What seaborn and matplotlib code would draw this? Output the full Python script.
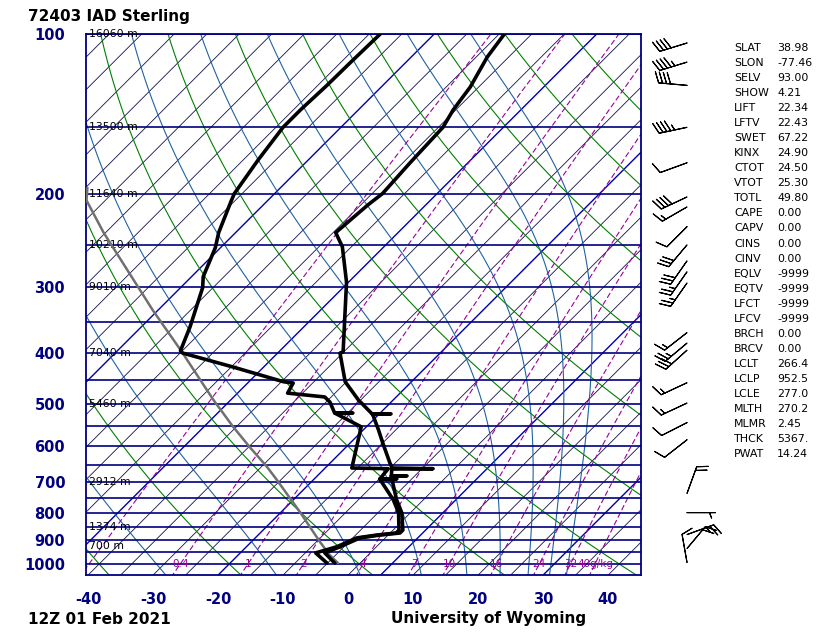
import numpy as np
import matplotlib
matplotlib.use("Agg")
import matplotlib.pyplot as plt
import seaborn as sns
import pandas as pd

# ---------------- data ----------------
title_text = "72403 IAD Sterling"
time_text = "12Z 01 Feb 2021"
credit_text = "University of Wyoming"

# temperature profile (hPa, degC)
temp_p = [100, 110.5, 125.9, 139.1, 150, 175, 200, 210, 237, 252, 294, 398, 400, 453, 490,
          521, 521, 521.5, 558, 591, 645, 659, 661, 662, 682, 682, 682.5, 757, 801, 863, 874,
          882, 893, 928, 953, 996]
temp_c = [-59.2, -58.3, -56.3, -55.4, -54.3, -53.9, -53.4, -53.9, -54.6, -51.4, -45.3, -35.1,
          -35.4, -30.2, -25.4, -21.1, -18.2, -21.0, -17.7, -15.0, -10.8, -9.7, -3.3, -9.6,
          -8.6, -6.2, -8.6, -4.1, -1.3, 1.5, 1.5, -1.3, -3.9, -5.6, -7.0, -3.9]

# dewpoint profile (hPa, degC)
dwpt_p = [100, 113, 125, 139, 150, 173, 200, 206, 237, 253, 287, 301, 357, 396, 400, 425,
          453, 455.5, 476, 484, 495, 519, 519, 519.5, 551, 659, 661, 691, 691, 691.5, 757,
          801, 863, 874, 882, 893, 928, 953, 996]
dwpt_c = [-78.3, -78.5, -78.6, -78.9, -78.9, -77.7, -76.2, -75.6, -72.6, -70.8, -68.2, -66.6,
          -62.5, -60.3, -59.6, -49.7, -39.7, -38.0, -37.3, -31.0, -29.4, -27.0, -24.2, -26.9,
          -20.8, -15.9, -10.2, -9.9, -7.3, -9.9, -4.6, -1.8, 0.9, 0.9, -1.8, -4.4, -6.1, -8.4,
          -5.1]

# lifted parcel trace (hPa, degC)
parcel_p = [996, 962, 909, 851, 798, 751, 694, 656, 602, 551, 490, 396, 332, 237, 206, 195]
parcel_c = [-3.4, -5.9, -9.4, -13.3, -17.1, -20.8, -25.6, -29.1, -34.8, -40.5, -47.7, -60.2,
            -70.8, -90.3, -97.9, -99.7]

# geopotential height labels
height_p = [100, 150, 200, 250, 300, 400, 500, 700, 850, 925]
height_txt = ["16060 m", "13500 m", "11640 m", "10210 m", "9010 m", "7040 m", "5460 m",
              "2912 m", "1374 m", "700 m"]

# winds (hPa, direction deg, speed kt)
wind_p = [104, 113, 125, 150, 175, 203, 212, 231, 250, 268, 281, 295, 366, 383, 395, 455,
          497, 541, 583, 736, 800, 880, 935, 993]
wind_dir = [253, 253, 275, 258, 250, 245, 240, 225, 220, 215, 215, 215, 232, 230, 228, 245,
            245, 243, 232, 20, 90, 70, 40, 350]
wind_spd = [40, 45, 40, 45, 10, 40, 15, 10, 30, 30, 25, 25, 15, 25, 30, 15,
            15, 10, 10, 20, 5, 25, 20, 10]

# sounding indices
stat_names = ["SLAT", "SLON", "SELV", "SHOW", "LIFT", "LFTV", "SWET", "KINX", "CTOT", "VTOT",
              "TOTL", "CAPE", "CAPV", "CINS", "CINV", "EQLV", "EQTV", "LFCT", "LFCV", "BRCH",
              "BRCV", "LCLT", "LCLP", "LCLE", "MLTH", "MLMR", "THCK", "PWAT"]
stat_vals = ["38.98", "-77.46", "93.00", "4.21", "22.34", "22.43", "67.22", "24.90", "24.50",
             "25.30", "49.80", "0.00", "0.00", "0.00", "0.00", "-9999", "-9999", "-9999",
             "-9999", "0.00", "0.00", "266.4", "952.5", "277.0", "270.2", "2.45", "5367.",
             "14.24"]

# background reference lines
isobars = list(range(100, 1001, 50))
isotherms = list(range(-130, 50, 5))
bold_isotherms = [-70, -45, -20, 5, 30]
dry_theta_c = list(range(-40, 201, 20))
moist_start_c = [-28, -11, 1.9, 11.3, 18.3, 23.4, 27.7, 31.0, 33.6]
mixr_gkg = [0.1, 0.4, 1, 2, 4, 7, 10, 16, 24, 32, 40]
mixr_txt = ["", "0.4", "1", "2", "4", "7", "10", "16", "24", "32", "40g/kg"]
xtick_vals = [-40, -30, -20, -10, 0, 10, 20, 30, 40]
ytick_vals = [100, 200, 300, 400, 500, 600, 700, 800, 900, 1000]

# ---------------- geometry ----------------
SKEW = 81.54   # degC of x-shift per decade of pressure (45 deg isotherms)
PREF = 1050.0
P_BOT, P_TOP = 1049.0, 100.0


def skew_x(t, p):
    return np.asarray(t, float) + SKEW * np.log10(PREF / np.asarray(p, float))


def esat(tc):
    return 6.112 * np.exp(17.67 * tc / (tc + 243.5))


def moist_profile(t0, plev):
    Rd, cp, Lv, eps = 287.04, 1005.7, 2.501e6, 0.622
    def f(T, p):
        es = esat(T - 273.15)
        rs = eps * es / (p - es)
        return (Rd * T + Lv * rs) / (cp + Lv * Lv * rs * eps / (Rd * T * T))
    T = t0 + 273.15
    out = [T]
    for i in range(1, len(plev)):
        dl = np.log(plev[i] / plev[i - 1])
        k1 = f(T, plev[i - 1])
        pm = plev[i - 1] * np.exp(dl / 2)
        k2 = f(T + k1 * dl / 2, pm)
        k3 = f(T + k2 * dl / 2, pm)
        k4 = f(T + k3 * dl, plev[i])
        T = T + dl * (k1 + 2 * k2 + 2 * k3 + k4) / 6
        out.append(T)
    return np.array(out) - 273.15


sns.set_theme(style="white")
plt.rcParams['font.family'] = ['DejaVu Sans']

W, H = 830, 638
fig = plt.figure(figsize=(W / 100, H / 100), dpi=100)
L, R, T_, B = 86, 641, 34, 575
ax = fig.add_axes([L / W, (H - B) / H, (R - L) / W, (B - T_) / H])
ax.set_yscale('log')
ax.set_ylim(P_BOT, P_TOP)
ax.set_xlim(-40.3, 45.08)
ax.set_facecolor('white')

navy = '#000080'
plev = np.logspace(np.log10(1060), np.log10(95), 300)

# isotherms
for t in isotherms:
    bold = t in bold_isotherms
    ax.plot(skew_x([t, t], [1060, 95]), [1060, 95],
            color='#0000b0' if bold else '#10104a', lw=1.0 if bold else 0.6, zorder=1)

# dry adiabats
for th in dry_theta_c:
    tk = (th + 273.15) * (plev / 1000.0) ** 0.2857 - 273.15
    ax.plot(skew_x(tk, plev), plev, color='#008000', lw=0.8, zorder=1)

# moist adiabats
for t0 in moist_start_c:
    pp = np.concatenate([[PREF], plev[plev < PREF]])
    tm = moist_profile(t0, pp)
    ax.plot(skew_x(tm, pp), pp, color='#1f62a6', lw=0.8, zorder=1)

# mixing ratio lines
for w, lbl in zip(mixr_gkg, mixr_txt):
    e = w * plev / (622.0 + w)
    le = np.log(e / 6.112)
    td = 243.5 * le / (17.67 - le)
    ax.plot(skew_x(td, plev), plev, color='#990099', lw=0.8, ls=(0, (5, 2.5)), zorder=1)
    if lbl:
        e0 = w * 1000 / (622.0 + w)
        l0 = np.log(e0 / 6.112)
        td0 = 243.5 * l0 / (17.67 - l0)
        ax.text(float(skew_x(td0, 1000)), 1000, lbl, color='#990099', fontsize=7.5,
                ha='center', va='center', zorder=3)

# isobars
for p in isobars:
    ax.axhline(p, color=navy, lw=1.2, zorder=2)

# height labels
for p, txt in zip(height_p, height_txt):
    ax.text(-39.85, p, txt, fontsize=7.8, color='black', ha='left', va='center', zorder=4)

# parcel trace
dfp = pd.DataFrame({'x': skew_x(parcel_c, parcel_p), 'p': parcel_p})
sns.lineplot(data=dfp, x='x', y='p', sort=False, estimator=None, color='#707070',
             lw=1.8, ax=ax, zorder=5)

# temperature and dewpoint
dft = pd.DataFrame({'x': skew_x(temp_c, temp_p), 'p': temp_p})
dfd = pd.DataFrame({'x': skew_x(dwpt_c, dwpt_p), 'p': dwpt_p})
sns.lineplot(data=dfd, x='x', y='p', sort=False, estimator=None, color='black', lw=2.6,
             ax=ax, zorder=6)
sns.lineplot(data=dft, x='x', y='p', sort=False, estimator=None, color='black', lw=2.6,
             ax=ax, zorder=6)

ax.set_ylim(P_BOT, P_TOP)
ax.set_xlim(-40.3, 45.08)
ax.set_xlabel('')
ax.set_ylabel('')
ax.set_yticks(ytick_vals)
ax.set_yticklabels([str(v) for v in ytick_vals])
ax.yaxis.set_minor_locator(matplotlib.ticker.NullLocator())
ax.set_xticks(xtick_vals)
ax.set_xticklabels([str(v) for v in xtick_vals])
ax.tick_params(axis='both', length=0, colors=navy, labelsize=10.5)
ax.tick_params(axis='y', pad=15)
ax.tick_params(axis='x', pad=12)
for lab in ax.get_xticklabels() + ax.get_yticklabels():
    lab.set_fontweight('bold')
    lab.set_color(navy)
for s in ax.spines.values():
    s.set_color(navy)
    s.set_linewidth(1.3)
    s.set_visible(True)

# wind barbs
axw = fig.add_axes([645 / W, (H - B) / H, 80 / W, (B - T_) / H])
axw.set_yscale('log')
axw.set_ylim(P_BOT, P_TOP)
axw.set_xlim(0, 1)
axw.axis('off')
d = np.deg2rad(np.array(wind_dir, float))
s = np.array(wind_spd, float)
u = -s * np.sin(d)
v = -s * np.cos(d)
axw.barbs(np.full(len(wind_p), 0.525), wind_p, u, v, length=6.4, color='black',
          linewidth=0.8, sizes=dict(spacing=0.14, height=0.38, width=0.3, emptybarb=0.0))

# texts
fig.text(28 / W, 1 - 16 / H, title_text, fontsize=11, fontweight='bold', ha='left',
         va='center', color='black')
fig.text(28 / W, 1 - 619 / H, time_text, fontsize=11, fontweight='bold', ha='left',
         va='center', color='black')
fig.text(489 / W, 1 - 619 / H, credit_text, fontsize=11, fontweight='bold', ha='center',
         va='center', color='black')

for i, (n, v_) in enumerate(zip(stat_names, stat_vals)):
    y = 48 + i * 15.04
    fig.text(734 / W, 1 - y / H, n, fontsize=7.9, ha='left', va='center', color='black')
    fig.text(777 / W, 1 - y / H, v_, fontsize=7.9, ha='left', va='center', color='black')

fig.savefig('out.png', dpi=100, facecolor='white')
